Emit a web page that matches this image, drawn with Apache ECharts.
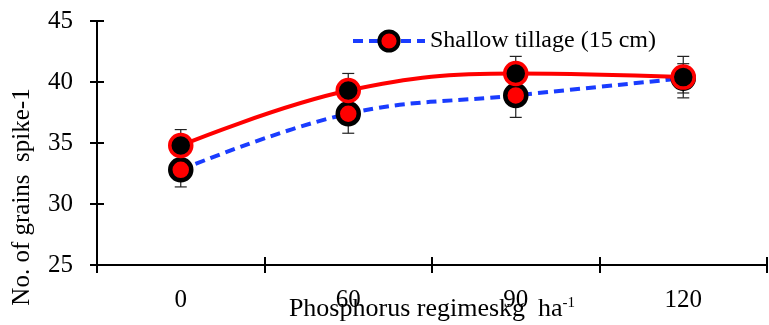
<!DOCTYPE html>
<html>
<head>
<meta charset="utf-8">
<script src="https://cdn.jsdelivr.net/npm/echarts@6/dist/echarts.min.js"></script>
<style>
html,body{margin:0;padding:0;background:#fff;}
#c{width:769px;height:325px;}
</style>
</head>
<body>
<div id="c"></div>
<script>
const categories = ['0', '60', '90', '120'];
const deepValues = [34.8, 39.3, 40.7, 40.4];
const deepErr = [1.3, 1.4, 1.4, 1.7];
const shallowValues = [32.8, 37.4, 38.9, 40.3];
const shallowErr = [1.4, 1.6, 1.8, 1.2];
const yMin = 25, yMax = 45, yStep = 5;

const FONT = '"Liberation Serif", "Times New Roman", serif';
const chart = echarts.init(document.getElementById('c'), null, {renderer: 'canvas'});

function errData(vals, errs) {
  return vals.map((v, i) => [i, v - errs[i], v + errs[i]]);
}
function errRender(params, api) {
  const x = api.value(0);
  const lo = api.coord([x, api.value(1)]);
  const hi = api.coord([x, api.value(2)]);
  const w = 6;
  const st = {stroke: '#222', lineWidth: 1.2};
  return {
    type: 'group',
    children: [
      {type: 'line', shape: {x1: lo[0], y1: lo[1], x2: hi[0], y2: hi[1]}, style: st},
      {type: 'line', shape: {x1: lo[0] - w, y1: lo[1], x2: lo[0] + w, y2: lo[1]}, style: st},
      {type: 'line', shape: {x1: hi[0] - w, y1: hi[1], x2: hi[0] + w, y2: hi[1]}, style: st}
    ]
  };
}

const option = {
  animation: false,
  backgroundColor: '#fff',
  textStyle: {fontFamily: FONT, color: '#000'},
  grid: {left: 97, right: 2, top: 21, bottom: 60, containLabel: false, outerBoundsMode: 'none'},
  legend: {
    data: ['Shallow tillage (15 cm)'],
    left: 346, top: 24,
    itemWidth: 72, itemHeight: 24, itemGap: 10,
    itemStyle: {borderWidth: 4, borderColor: '#000', color: '#ff0000'},
    lineStyle: {width: 4, type: [10, 6], color: '#1a3cff'},
    textStyle: {fontFamily: FONT, fontSize: 24, color: '#000'}
  },
  xAxis: [{
    type: 'category', data: categories, position: 'bottom',
    axisLine: {lineStyle: {color: '#000', width: 2}},
    axisTick: {show: true, length: 8, lineStyle: {color: '#000', width: 2}},
    axisLabel: {fontFamily: FONT, fontSize: 25, color: '#000', margin: 23},
    name: '{a|Phosphorus regimeskg  ha}{s|-1}',
    nameLocation: 'middle', nameGap: 31, nameMoveOverlap: false,
    nameTextStyle: {
      rich: {
        a: {fontFamily: FONT, fontSize: 26, color: '#000', lineHeight: 26},
        s: {fontFamily: FONT, fontSize: 15, color: '#000', verticalAlign: 'top', lineHeight: 16}
      }
    }
  }, {
    type: 'category', data: categories, position: 'bottom',
    axisLine: {show: false},
    axisTick: {show: true, inside: true, length: 8, lineStyle: {color: '#000', width: 2}},
    axisLabel: {show: false}
  }],
  yAxis: [{
    type: 'value', min: yMin, max: yMax, interval: yStep, position: 'left',
    axisLine: {show: true, lineStyle: {color: '#000', width: 2}},
    axisTick: {show: true, length: 7, lineStyle: {color: '#000', width: 2}},
    axisLabel: {fontFamily: FONT, fontSize: 25, color: '#000', margin: 24},
    splitLine: {show: false}
  }, {
    type: 'value', min: yMin, max: yMax, interval: yStep, position: 'left',
    axisLine: {show: false},
    axisTick: {show: true, inside: true, length: 7, lineStyle: {color: '#000', width: 2}},
    axisLabel: {show: false},
    splitLine: {show: false}
  }],
  graphic: [{
    type: 'text',
    x: 22, y: 197,
    rotation: Math.PI / 2,
    style: {
      text: 'No. of grains  spike-1',
      fontFamily: FONT, fontSize: 25, fill: '#000',
      align: 'center', verticalAlign: 'middle'
    }
  }],
  series: [
    {
      type: 'custom', name: 'errShallow', renderItem: errRender,
      data: errData(shallowValues, shallowErr), z: 1,
      xAxisIndex: 0, yAxisIndex: 0
    },
    {
      type: 'custom', name: 'errDeep', renderItem: errRender,
      data: errData(deepValues, deepErr), z: 1,
      xAxisIndex: 0, yAxisIndex: 0
    },
    {
      type: 'line', name: 'Shallow tillage (15 cm)', data: shallowValues,
      xAxisIndex: 0, yAxisIndex: 0, z: 3,
      smooth: 0.4,
      symbol: 'circle', symbolSize: 21,
      lineStyle: {color: '#1a3cff', width: 4, type: [10, 6]},
      itemStyle: {color: '#ff0000', borderColor: '#000', borderWidth: 4.5}
    },
    {
      type: 'line', name: 'Deep tillage', data: deepValues,
      xAxisIndex: 0, yAxisIndex: 0, z: 4,
      smooth: 0.4,
      symbol: 'circle', symbolSize: 22,
      lineStyle: {color: '#ff0000', width: 4},
      itemStyle: {color: '#000', borderColor: '#ff0000', borderWidth: 3.5}
    }
  ]
};
chart.setOption(option);
</script>
</body>
</html>
